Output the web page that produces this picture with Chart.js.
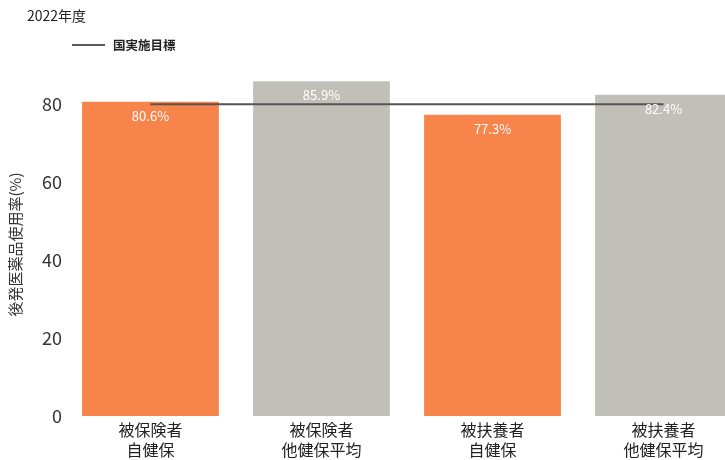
<!DOCTYPE html>
<html>
<head>
<meta charset="utf-8">
<script src="https://cdn.jsdelivr.net/npm/chart.js@4"></script>
<style>
  html, body { margin: 0; padding: 0; background: #fff; overflow: hidden; }
  #wrap { width: 760px; height: 460px; }
</style>
</head>
<body>
<div id="wrap"><canvas id="myChart" width="760" height="460"></canvas></div>
<script>
var categories = [["被保険者", "自健保"], ["被保険者", "他健保平均"], ["被扶養者", "自健保"], ["被扶養者", "他健保平均"]];
var usage = [80.6, 85.9, 77.3, 82.4];
var target = [80, 80, 80, 80];
var yTicks = [0, 20, 40, 60, 80];
var barColors = ["#f7854b", "#c0bfb8", "#f7854b", "#c0bfb8"];

var font = "'Noto Sans CJK JP', 'Noto Sans', sans-serif";

// title + legend drawn at top-left
var header = {
  id: 'header',
  afterDraw: function(chart) {
    var c = chart.ctx;
    c.save();
    c.fillStyle = '#222';
    c.font = '14px ' + font;
    c.textBaseline = 'middle';
    c.fillText('2022年度', 27, 16);
    c.strokeStyle = '#222';
    c.lineWidth = 1.5;
    c.beginPath();
    c.moveTo(72, 45);
    c.lineTo(105, 45);
    c.stroke();
    c.font = 'bold 12.5px ' + font;
    c.fillText(chart.data.datasets[0].label, 113, 45);
    c.restore();
  }
};

// value labels inside the bars
var barLabels = {
  id: 'barLabels',
  afterDatasetsDraw: function(chart) {
    var c = chart.ctx;
    var meta = chart.getDatasetMeta(1);
    c.save();
    c.fillStyle = '#fff';
    c.font = '13px ' + font;
    c.textAlign = 'center';
    c.textBaseline = 'middle';
    meta.data.forEach(function(bar, i) {
      c.fillText(usage[i].toFixed(1) + '%', bar.x, bar.y + 14);
    });
    c.restore();
  }
};

new Chart(document.getElementById('myChart'), {
  data: {
    labels: categories,
    datasets: [{
      type: 'line',
      label: '国実施目標',
      data: target,
      borderColor: '#555',
      borderWidth: 2,
      pointRadius: 0,
      order: 0
    }, {
      type: 'bar',
      label: '後発医薬品使用率',
      data: usage,
      backgroundColor: barColors,
      barPercentage: 0.8,
      categoryPercentage: 1,
      order: 1
    }]
  },
  options: {
    responsive: false,
    animation: false,
    layout: { padding: { top: 73, left: 0, right: 11, bottom: -4 } },
    plugins: {
      legend: { display: false },
      tooltip: { enabled: false }
    },
    scales: {
      x: {
        grid: { display: false, drawTicks: false },
        border: { display: false },
        ticks: { color: '#222', font: { family: font, size: 16, lineHeight: 1.25 }, padding: 4, maxRotation: 0 }
      },
      y: {
        min: 0,
        max: 88,
        grid: { display: false, drawTicks: false },
        border: { display: false },
        afterBuildTicks: function(axis) {
          axis.ticks = yTicks.map(function(v) { return { value: v }; });
        },
        ticks: { color: '#333', font: { family: font, size: 18 }, padding: 3 },
        title: {
          display: true,
          text: '後発医薬品使用率(%)',
          color: '#333',
          font: { family: font, size: 15 },
          padding: { top: 6, bottom: 15 }
        }
      }
    }
  },
  plugins: [header, barLabels]
});
</script>
</body>
</html>
